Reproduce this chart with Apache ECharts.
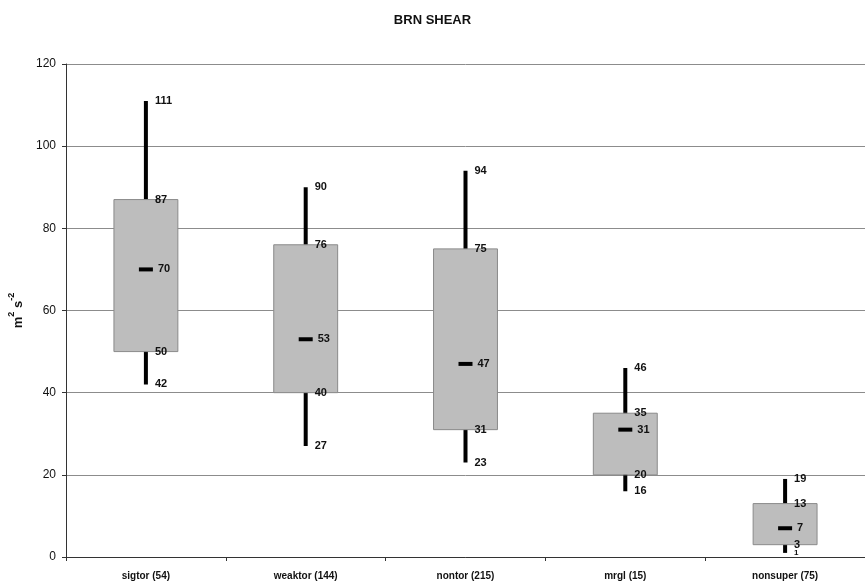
<!DOCTYPE html>
<html>
<head>
<meta charset="utf-8">
<script src="https://cdn.jsdelivr.net/npm/echarts@6/dist/echarts.min.js"></script>
<style>html,body{margin:0;padding:0;background:#fff}#c{width:865px;height:581px}</style>
</head>
<body>
<div id="c"></div>
<script>
var categories = ['sigtor (54)', 'weaktor (144)', 'nontor (215)', 'mrgl (15)', 'nonsuper (75)'];
var whiskerLow = [42, 27, 23, 16, 1];
var q1 = [50, 40, 31, 20, 3];
var median = [70, 53, 47, 31, 7];
var q3 = [87, 76, 75, 35, 13];
var whiskerHigh = [111, 90, 94, 46, 19];
var yTicks = [0, 20, 40, 60, 80, 100, 120];

var FONT = 'Liberation Sans, Arial, sans-serif';
var chart = echarts.init(document.getElementById('c'), null, {renderer: 'canvas'});

var data = categories.map(function (c, i) {
  return [i, whiskerLow[i], q1[i], median[i], q3[i], whiskerHigh[i]];
});

function lbl(x, y, v, small) {
  return {
    type: 'text', z2: 10,
    style: {
      text: String(v), x: x, y: y,
      align: 'left', verticalAlign: 'middle',
      fill: '#111', fontSize: small ? 8 : 11, fontWeight: 'bold', fontFamily: FONT
    }
  };
}

function renderItem(params, api) {
  var i = api.value(0);
  var band = api.size([1, 0])[0];
  var pLow = api.coord([i, api.value(1)]);
  var pQ1 = api.coord([i, api.value(2)]);
  var pMed = api.coord([i, api.value(3)]);
  var pQ3 = api.coord([i, api.value(4)]);
  var pHigh = api.coord([i, api.value(5)]);
  var x = pLow[0];
  var bw = band * 0.4;
  var mw = 14;
  var children = [
    {type: 'line', shape: {x1: x, y1: pLow[1], x2: x, y2: pHigh[1]},
     style: {stroke: '#000', lineWidth: 4}},
    {type: 'rect', shape: {x: x - bw / 2, y: pQ3[1], width: bw, height: pQ1[1] - pQ3[1]},
     style: {fill: '#bdbdbd', stroke: '#8a8a8a', lineWidth: 1}},
    {type: 'line', shape: {x1: x - mw / 2, y1: pMed[1], x2: x + mw / 2, y2: pMed[1]},
     style: {stroke: '#000', lineWidth: 4}},
    lbl(x + 9, pHigh[1], api.value(5)),
    lbl(x + 9, pQ3[1], api.value(4)),
    lbl(x + mw / 2 + 5, pMed[1], api.value(3)),
    lbl(x + 9, pQ1[1], api.value(2)),
    lbl(x + 9, pLow[1], api.value(1), i === 4)
  ];
  return {type: 'group', children: children};
}

chart.setOption({
  animation: false,
  backgroundColor: '#fff',
  title: {
    text: 'BRN SHEAR', left: 'center', top: 9,
    textStyle: {fontSize: 13, fontWeight: 'bold', color: '#111', fontFamily: FONT}
  },
  grid: {left: 66, right: 0, top: 64, bottom: 24, outerBoundsMode: 'none', containLabel: false},
  xAxis: {
    type: 'category', data: categories, boundaryGap: true,
    axisLine: {lineStyle: {color: '#333', width: 1}},
    axisTick: {show: true, length: 4, lineStyle: {color: '#333'}},
    axisLabel: {fontSize: 10, fontWeight: 'bold', color: '#111', fontFamily: FONT, margin: 14}
  },
  yAxis: {
    type: 'value', min: yTicks[0], max: yTicks[yTicks.length - 1], interval: 20,
    name: '{b|m}{s|2}{b| s}{s|-2}', nameLocation: 'middle', nameRotate: 90, nameGap: 40,
    nameTextStyle: {
      rich: {
        b: {fontSize: 13, fontWeight: 'bold', color: '#111', fontFamily: FONT, lineHeight: 18, verticalAlign: 'bottom'},
        s: {fontSize: 9, fontWeight: 'bold', color: '#111', fontFamily: FONT, lineHeight: 18, verticalAlign: 'top'}
      }
    },
    axisLine: {show: true, lineStyle: {color: '#333', width: 1}},
    axisTick: {show: true, length: 4, lineStyle: {color: '#333'}},
    axisLabel: {fontSize: 12, color: '#111', fontFamily: FONT, margin: 10},
    splitLine: {lineStyle: {color: '#8c8c8c', width: 1}}
  },
  series: [{
    type: 'custom', renderItem: renderItem, data: data,
    encode: {x: 0, y: [1, 2, 3, 4, 5]}, clip: false
  }]
});
</script>
</body>
</html>
